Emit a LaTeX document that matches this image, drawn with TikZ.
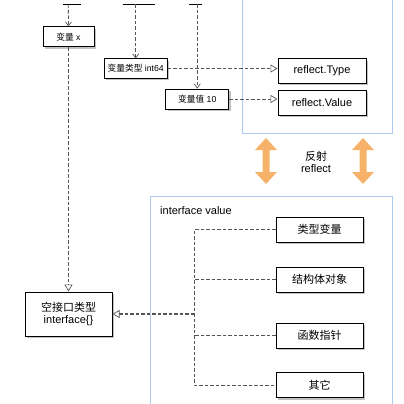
\documentclass[tikz,border=0pt]{standalone}
\usepackage{fontspec}
\setmainfont{Liberation Sans}
\newfontfamily\cjk{Noto Sans CJK SC}
\usetikzlibrary{arrows.meta,shadows}
\definecolor{blueline}{RGB}{175,200,242}
\definecolor{orangefill}{RGB}{247,178,105}
\definecolor{dashgray}{RGB}{85,85,85}
\begin{document}
\begin{tikzpicture}[x=1pt,y=-1pt,
  box/.style={draw=black,line width=1pt,fill=white,inner sep=0pt,
    drop shadow={shadow xshift=2pt,shadow yshift=-2pt,fill=black!40,opacity=0.6}},
  smallbox/.style={box,font=\fontsize{8.7}{10}\selectfont},
  bigbox/.style={box,font=\fontsize{11}{13}\selectfont},
  conn/.style={draw=dashgray,line width=0.8pt,dash pattern=on 3.5pt off 2pt},
  vhead/.style={-{Straight Barb[length=4pt,width=6pt,line width=0.7pt]}},
  thead/.style={-{Triangle[open,length=7pt,width=8pt,fill=white,line width=0.7pt]}},
  group/.style={draw=blueline,line width=1pt},
  bar/.style={draw=black,line width=1.8pt},
  dblarrow/.style={fill=orangefill,draw=none}
]
\useasboundingbox (0,0) rectangle (404,404);

% groups
\draw[group] (242,-5) rectangle (392,133);
\draw[group] (150,196) -- (392,196);
\draw[group] (150,196) -- (150,410);
\draw[group] (392,196) -- (392,410);

% top bars (bottoms of cut-off elements)
\coordinate (t1) at (68.3,4.5);
\coordinate (t2) at (135.7,4.5);
\coordinate (t3) at (197.3,4.5);
\draw[bar] (63.3,4.5) -- (80.7,4.5);
\draw[bar] (122.7,4.5) -- (155,4.5);
\draw[bar] (189.3,4.5) -- (201.7,4.5);

% nodes
\node[smallbox,minimum width=51pt,minimum height=20pt] (vx) at (68.5,37) {{\cjk 变量} x};
\node[smallbox,minimum width=63pt,minimum height=19pt] (vt) at (135.7,68.5) {{\cjk 变量类型} int64};
\node[smallbox,minimum width=63pt,minimum height=20pt] (vv) at (197.3,99) {{\cjk 变量值} 10};
\node[bigbox,minimum width=88pt,minimum height=24pt] (rt) at (322,71) {reflect.Type};
\node[bigbox,minimum width=88pt,minimum height=25pt] (rv) at (322,102.5) {reflect.Value};

\node[bigbox,minimum width=87pt,minimum height=25pt] (k1) at (319.5,229.5) {\cjk 类型变量};
\node[bigbox,minimum width=87pt,minimum height=25pt] (k2) at (319.5,279.5) {\cjk 结构体对象};
\node[bigbox,minimum width=87pt,minimum height=25pt] (k3) at (319.5,335.5) {\cjk 函数指针};
\node[bigbox,minimum width=87pt,minimum height=25pt] (k4) at (319.5,385) {\cjk 其它};

\node[bigbox,minimum width=87pt,minimum height=44pt,align=center] (ei) at (68.5,314)
  {{\cjk 空接口类型}\\[-1pt]interface\{\}};

\node[font=\fontsize{11}{13}\selectfont,anchor=west,inner sep=0pt] (ivlabel) at (160,211) {interface value};
\node[font=\fontsize{11}{13}\selectfont,align=center,inner sep=0pt] (refl) at (316,162) {{\cjk 反射}\\[-1pt]reflect};

% orange double arrows
\fill[dblarrow] (266,138) -- (277,150) -- (269.5,150) -- (269.5,172) -- (277,172) -- (266,184)
  -- (255,172) -- (262.5,172) -- (262.5,150) -- (255,150) -- cycle;
\fill[dblarrow] (363,138) -- (374,150) -- (366.5,150) -- (366.5,172) -- (374,172) -- (363,184)
  -- (352,172) -- (359.5,172) -- (359.5,150) -- (352,150) -- cycle;

% connectors
\draw[conn,vhead] (t1) -- (vx.north);
\draw[conn,vhead] (t2) -- (vt.north);
\draw[conn,vhead] (t3) -- (vv.north);
\draw[conn,thead] (vt.east) -- (vt.east -| rt.west);
\draw[conn,thead] (vv.east) -- (vv.east -| rv.west);
\draw[conn,thead] (vx.south) -- (ei.north);

\coordinate (bus) at (194,314);
\draw[conn] (k1.west) -- (k1.west -| bus) -- (k4.west -| bus) -- (k4.west);
\draw[conn] (k2.west) -- (k2.west -| bus);
\draw[conn] (k3.west) -- (k3.west -| bus);
\draw[conn,line width=1.1pt,thead] (bus) -- (ei.east);
\end{tikzpicture}
\end{document}
